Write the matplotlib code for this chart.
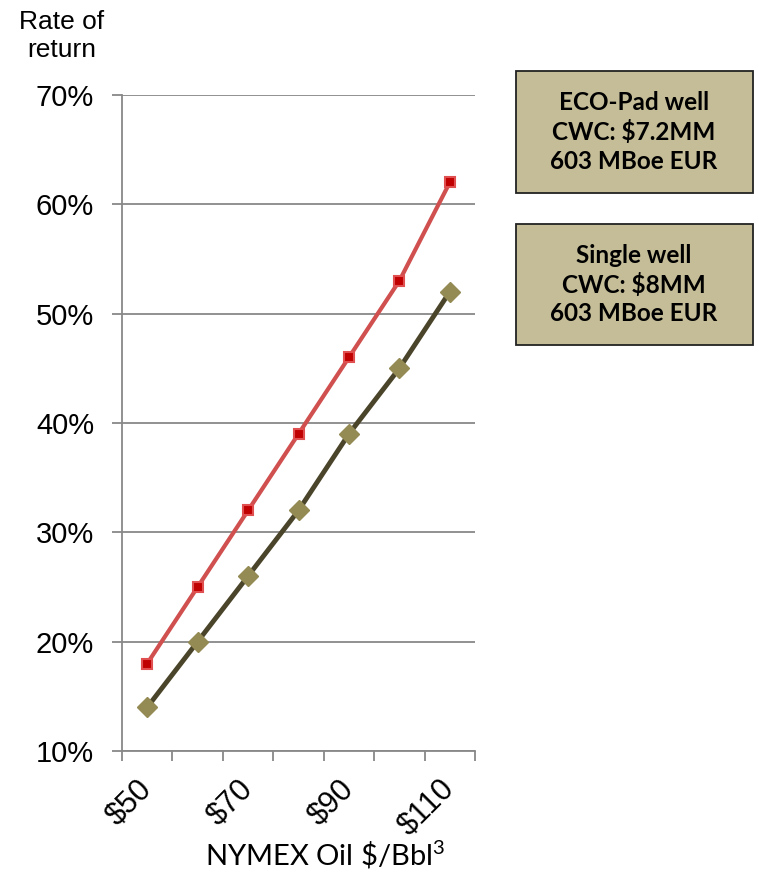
import matplotlib
matplotlib.use("Agg")
import matplotlib.pyplot as plt
from matplotlib.patches import Rectangle
import numpy as np

plt.rcParams["mathtext.fontset"] = "custom"
plt.rcParams["mathtext.rm"] = "Lato"
plt.rcParams["mathtext.default"] = "rm"

# data
prices = ["$50", "$60", "$70", "$80", "$90", "$100", "$110"]
eco_pad = [18, 25, 32, 39, 46, 53, 62]
single = [14, 20, 26, 32, 39, 45, 52]
boxes = ["ECO-Pad well\nCWC: $7.2MM\n603 MBoe EUR",
         "Single well\nCWC: $8MM\n603 MBoe EUR"]

W, H = 759, 872
fig = plt.figure(figsize=(W/100, H/100), dpi=100)
ax = fig.add_axes([122/W, 1-751/H, (475-122)/W, (751-95)/H])

x = np.arange(len(prices))
ax.plot(x, eco_pad, color="#D0504F", lw=3, marker="s", ms=7,
        mfc="#C00000", mec="#E05050", mew=1.5, zorder=3)
ax.plot(x, single, color="#4A452A", lw=3.5, marker="D", ms=10,
        mfc="#948A54", mec="#948A54", zorder=3)

ax.set_xlim(-0.5, len(prices) - 0.5)
ax.set_ylim(10, 70)
ax.set_yticks(np.arange(10, 71, 10))
ax.set_yticklabels([f"{v}%" for v in range(10, 71, 10)],
                   fontsize=21, family="Liberation Sans")
ax.grid(axis="y", color="#888888", lw=1.3)
ax.set_axisbelow(True)

ax.set_xticks(x[::2])
ax.set_xticklabels(prices[::2], rotation=45, ha="right", va="center",
                   rotation_mode="anchor", fontsize=22, family="Liberation Sans")
ax.set_xticks(np.arange(-0.5, len(prices)), minor=True)
ax.tick_params(axis="x", which="major", length=0, pad=24)
ax.tick_params(axis="x", which="minor", length=7, width=1.3, color="#888888")
ax.tick_params(axis="y", length=7, width=1.3, color="#888888", pad=13)

for s in ["top", "right"]:
    ax.spines[s].set_visible(False)
for s in ["left", "bottom"]:
    ax.spines[s].set_color("#888888")
    ax.spines[s].set_linewidth(1.3)

fig.text(62/W, 1-36/H, "Rate of\nreturn", ha="center", va="center",
         fontsize=19, family="Liberation Sans", linespacing=1.2)
fig.text(325/W, 1-855/H, r"NYMEX Oil \$/Bbl$^{3}$", ha="center", va="center",
         fontsize=21, family="Lato")

for (top, bot), txt in zip([(71, 193), (224, 345)], boxes):
    fig.patches.append(Rectangle((516/W, 1-bot/H), (753-516)/W, (bot-top)/H,
                                 transform=fig.transFigure, fc="#C4BD97",
                                 ec="#222222", lw=1.3))
    fig.text(634/W, 1-(top+bot)/2/H, txt, ha="center", va="center",
             fontsize=17.5, family="Lato", fontweight="bold", linespacing=1.3)

fig.savefig("out.png", dpi=100)
